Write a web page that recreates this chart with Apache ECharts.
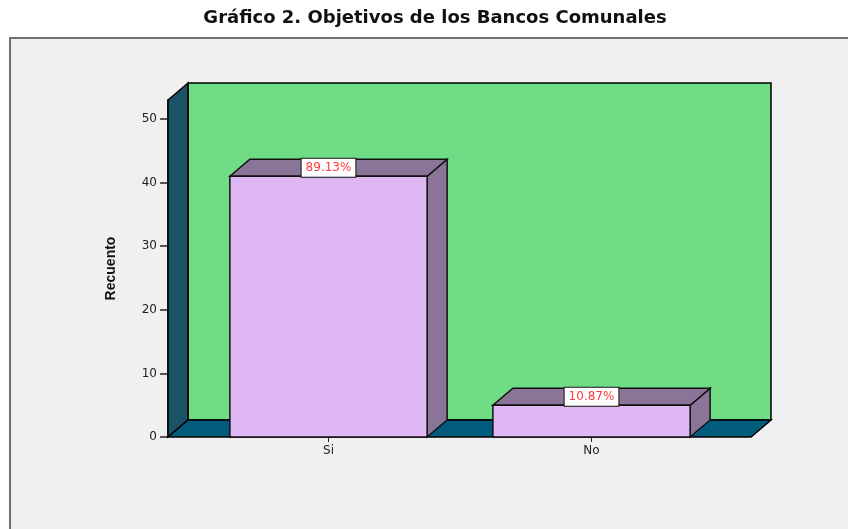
<!DOCTYPE html>
<html>
<head>
<meta charset="utf-8">
<title>Gráfico 2. Objetivos de los Bancos Comunales</title>
<script src="https://cdn.jsdelivr.net/npm/echarts@6.0.0/dist/echarts.min.js"></script>
<style>
  html, body { margin: 0; padding: 0; background: #fff; }
  #chart { width: 848px; height: 529px; }
</style>
</head>
<body>
<div id="chart"></div>
<script>
var categories = ["Si", "No"];
var counts = [41, 5];
var yTicks = [0, 10, 20, 30, 40, 50];

var total = counts.reduce(function (a, b) { return a + b; }, 0);
var yMax = 53;
// desplazamiento de la profundidad 3D
var DX = 20, DY = -17;
// ejes y paredes salen del grid
var LEFT_EXT = 29, RIGHT_EXT = 28;

var chart = echarts.init(document.getElementById("chart"));

function renderWalls(params, api) {
  var cs = params.coordSys;
  var x0 = cs.x - LEFT_EXT;
  var x1 = cs.x + cs.width + RIGHT_EXT;
  var y0 = api.coord([0, 0])[1];
  var yt = api.coord([0, yMax])[1];
  var stroke = { stroke: "#000", lineWidth: 1.5 };
  return {
    type: "group",
    children: [
      {
        type: "rect",
        shape: { x: x0 + DX, y: yt + DY, width: x1 - x0, height: y0 - yt },
        style: Object.assign({ fill: "#70dd86" }, stroke),
      },
      {
        type: "polygon",
        shape: { points: [[x0, y0], [x0, yt], [x0 + DX, yt + DY], [x0 + DX, y0 + DY]] },
        style: Object.assign({ fill: "#1a5266" }, stroke),
      },
      {
        type: "polygon",
        shape: { points: [[x0, y0], [x0 + DX, y0 + DY], [x1 + DX, y0 + DY], [x1, y0]] },
        style: Object.assign({ fill: "#005b7c" }, stroke),
      },
    ],
  };
}

function renderBar(params, api) {
  var idx = api.value(0);
  var v = api.value(1);
  var base = api.coord([idx, 0]);
  var top = api.coord([idx, v]);
  var w = api.size([1, 0])[0] * 0.75;
  var xl = top[0] - w / 2, xr = top[0] + w / 2;
  var yt = top[1], yb = base[1];
  var stroke = { stroke: "#111", lineWidth: 1.5 };
  var pct = ((v / total) * 100).toFixed(2) + "%";
  return {
    type: "group",
    children: [
      {
        type: "polygon",
        shape: { points: [[xr, yt], [xr + DX, yt + DY], [xr + DX, yb + DY], [xr, yb]] },
        style: Object.assign({ fill: "#8a7497" }, stroke),
      },
      {
        type: "polygon",
        shape: { points: [[xl, yt], [xl + DX, yt + DY], [xr + DX, yt + DY], [xr, yt]] },
        style: Object.assign({ fill: "#8a7497" }, stroke),
      },
      {
        type: "rect",
        shape: { x: xl, y: yt, width: w, height: yb - yt },
        style: Object.assign({ fill: "#dfb8f3" }, stroke),
      },
      {
        type: "text",
        x: top[0],
        y: yt + DY / 2,
        style: {
          text: pct,
          fill: "#ff3b3b",
          fontSize: 12,
          fontFamily: "DejaVu Sans",
          align: "center",
          verticalAlign: "middle",
          backgroundColor: "#fff",
          borderColor: "#111",
          borderWidth: 1,
          padding: [3, 4],
        },
      },
    ],
  };
}

var option = {
  backgroundColor: "#fff",
  animation: false,
  title: {
    text: "Gráfico 2. Objetivos de los Bancos Comunales",
    left: 435,
    textAlign: "center",
    top: 9,
    padding: 0,
    textStyle: {
      fontFamily: "DejaVu Sans",
      fontWeight: "bold",
      fontSize: 18,
      color: "#111",
    },
  },
  //panel gris
  graphic: [
    {
      type: "rect",
      z: -10,
      silent: true,
      shape: { x: 10, y: 38, width: 860, height: 520 },
      style: { fill: "#f0f0f0", stroke: "#6f6f6f", lineWidth: 2 },
    },
  ],
  grid: {
    left: 197,
    right: 125,
    top: 100,
    bottom: 92,
  },
  xAxis: {
    type: "category",
    data: categories,
    axisLine: { show: false },
    axisTick: {
      show: true,
      alignWithLabel: true,
      length: 5,
      lineStyle: { color: "#222" },
    },
    axisLabel: {
      margin: 8,
      color: "#222",
      fontFamily: "DejaVu Sans",
      fontSize: 12,
    },
    splitLine: { show: false },
  },
  yAxis: {
    type: "value",
    min: 0,
    max: yMax,
    interval: 10,
    offset: LEFT_EXT,
    name: "Recuento",
    nameLocation: "middle",
    nameGap: 50,
    nameTextStyle: {
      fontFamily: "Liberation Sans",
      fontWeight: "bold",
      fontSize: 14,
      color: "#111",
    },
    axisLine: { show: true, lineStyle: { color: "#000", width: 1.5 } },
    axisTick: {
      show: true,
      length: 8,
      customValues: yTicks,
      lineStyle: { color: "#222", width: 1.5 },
    },
    axisLabel: {
      margin: 11,
      customValues: yTicks,
      color: "#222",
      fontFamily: "DejaVu Sans",
      fontSize: 12,
    },
    splitLine: { show: false },
  },
  series: [
    {
      type: "custom",
      name: "walls",
      clip: false,
      silent: true,
      z: 1,
      renderItem: renderWalls,
      data: [[0, 0]],
    },
    {
      type: "custom",
      name: "Recuento",
      clip: false,
      z: 3,
      renderItem: renderBar,
      encode: { x: 0, y: 1 },
      data: counts.map(function (v, i) { return [i, v]; }),
    },
  ],
};
chart.setOption(option);
</script>
</body>
</html>
